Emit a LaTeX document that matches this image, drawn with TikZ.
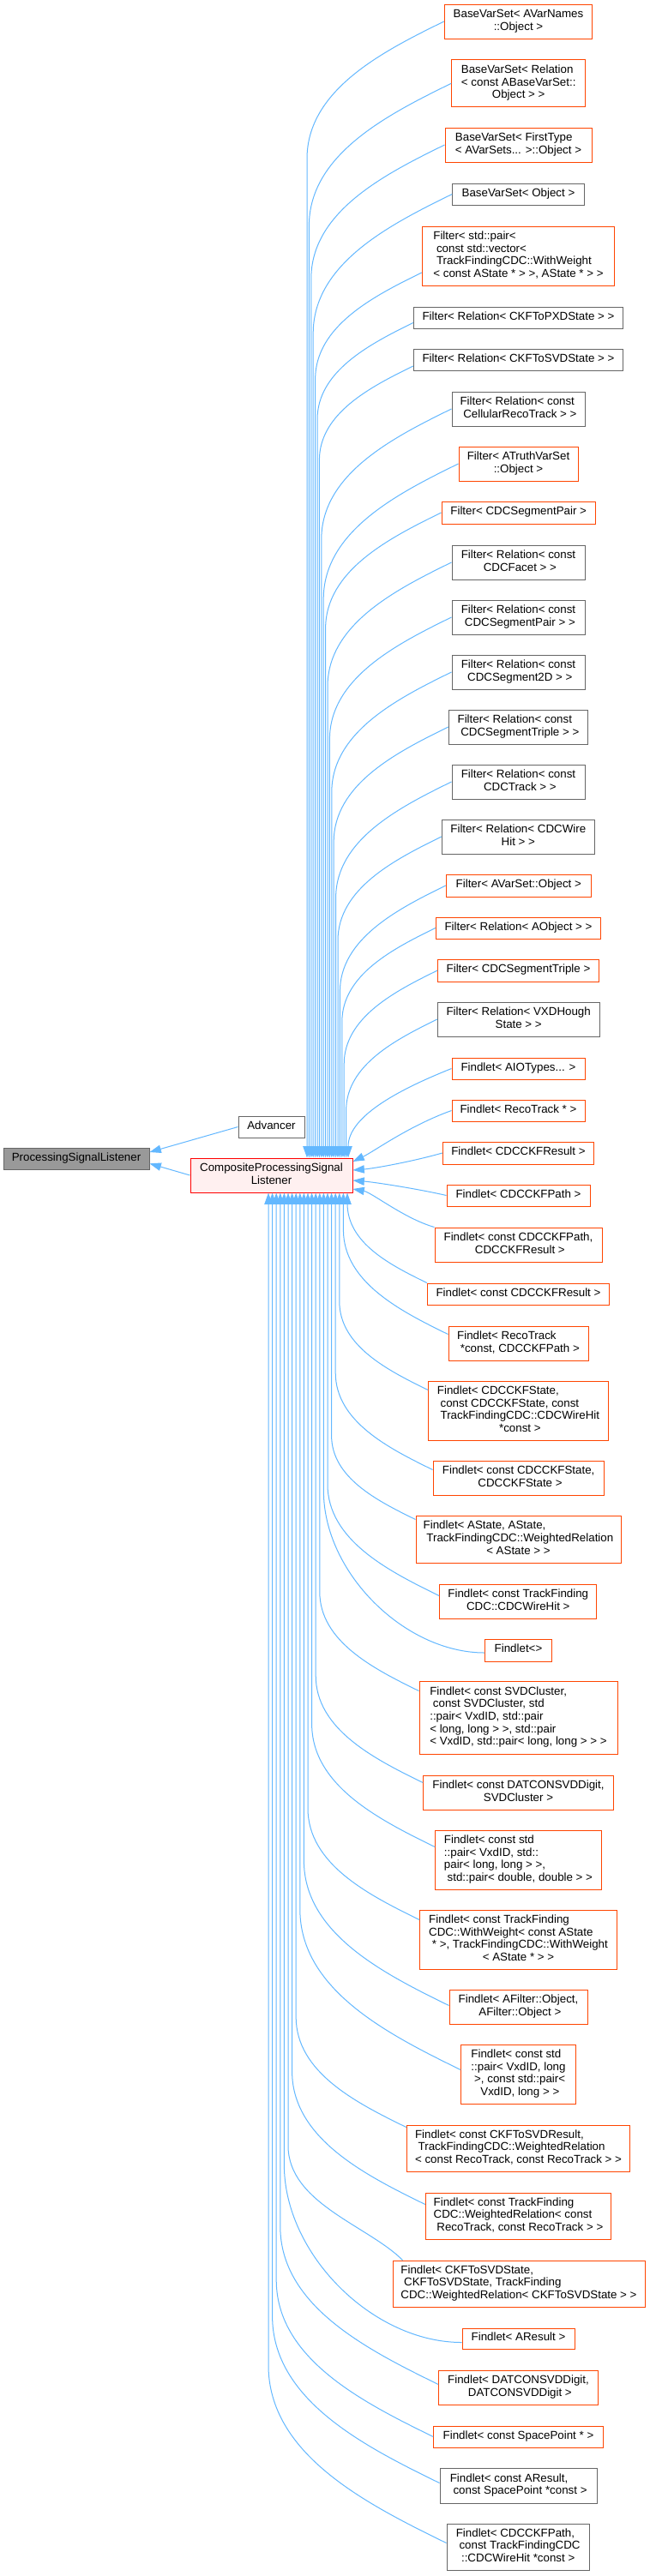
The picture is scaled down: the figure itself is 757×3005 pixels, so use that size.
\documentclass[tikz,border=0pt]{standalone}
\usepackage{fontspec}
\setmainfont{Liberation Sans}
\usetikzlibrary{arrows.meta}
\definecolor{edgeblue}{HTML}{63B8FF}
\definecolor{orB}{HTML}{FF4500}
\definecolor{grB}{HTML}{666666}
\definecolor{redB}{HTML}{FF0000}
\definecolor{pinkF}{HTML}{FFF0F0}
\definecolor{pslF}{HTML}{999999}
\newcommand{\Lab}[1]{\begin{tabular}{@{}l@{}}#1\end{tabular}}
\newcommand{\Last}[1]{\multicolumn{1}{@{}c@{}}{#1}}
% upper edge: start, Ex, Py, D
\newcommand{\upedge}[4]{\draw[edge] #1 .. controls +({-0.45*#4},{0.22*#4}) and +(0,{-0.5*#4}) .. (#2,#3) -- (#2,0 |- comp.north);}
\newcommand{\lowedge}[4]{\draw[edge] #1 .. controls +({-0.45*#4},{-0.22*#4}) and +(0,{0.5*#4}) .. (#2,#3) -- (#2,0 |- comp.south);}
\begin{document}
\begin{tikzpicture}[x=0.75pt,y=-0.75pt,
  box/.style={draw, line width=0.75pt, rectangle, inner sep=0pt, font=\fontsize{10}{11}\selectfont, fill=white},
  ob/.style={box, draw=orB},
  gb/.style={box, draw=grB},
  wh/.style 2 args={minimum width={#1*0.75pt}, minimum height={#2*0.75pt}},
  edge/.style={draw=edgeblue, line width=0.75pt, -{Triangle[length=10pt,width=7pt]}},
  yo/.style={yshift={-#1*0.75pt}},
  xo/.style={xshift={#1*0.75pt}}]
\fill[white] (0,0) rectangle (757,3005);
\useasboundingbox (0,0) rectangle (757,3005);

% left part
\node[gb, wh={170}{25}, fill=pslF] (psl) at (89,1352) {\Lab{ProcessingSignalListener}};
\node[gb, wh={77}{25}] (adv) at (316.5,1314.5) {\Lab{Advancer}};
\node[box, draw=redB, fill=pinkF, wh={189}{40}] (comp) at (316.5,1371) {\Lab{CompositeProcessingSignal\\\Last{Listener}}};

% right column
\node[ob, wh={172.4}{40}] (n1) at (604.5,25) {\Lab{BaseVarSet< AVarNames\\\Last{::Object >}}};
\node[ob, wh={156}{54.7}] (n2) at (604.7,97.3) {\Lab{BaseVarSet< Relation\\< const ABaseVarSet::\\\Last{Object > >}}};
\node[ob, wh={171}{40}] (n3) at (604.5,169) {\Lab{BaseVarSet< FirstType\\\Last{< AVarSets... >::Object >}}};
\node[gb, wh={153.6}{25}] (n4) at (604.5,226.5) {\Lab{BaseVarSet< Object >}};
\node[ob, wh={224.4}{69}] (n5) at (604.5,298.5) {\Lab{Filter< std::pair<\\\ const std::vector<\\\ TrackFindingCDC::WithWeight\\\Last{< const AState * > >, AState * > >}}};
\node[gb, wh={244.4}{25}] (n6) at (604.5,370.5) {\Lab{Filter< Relation< CKFToPXDState > >}};
\node[gb, wh={244.4}{25}] (n7) at (604.5,420) {\Lab{Filter< Relation< CKFToSVDState > >}};
\node[gb, wh={155}{40}] (n8) at (604.5,477) {\Lab{Filter< Relation< const\\\Last{\ CellularRecoTrack > >}}};
\node[ob, wh={139}{40}] (n9) at (604.5,541) {\Lab{Filter< ATruthVarSet\\\Last{::Object >}}};
\node[ob, wh={179.3}{26}] (n10) at (604.7,598) {\Lab{Filter< CDCSegmentPair >}};
\node[gb, wh={155}{40}] (n11) at (604.5,656) {\Lab{Filter< Relation< const\\\Last{\ CDCFacet > >}}};
\node[gb, wh={155}{40}] (n12) at (604.5,720) {\Lab{Filter< Relation< const\\\Last{\ CDCSegmentPair > >}}};
\node[gb, wh={155}{40}] (n13) at (604.5,784) {\Lab{Filter< Relation< const\\\Last{\ CDCSegment2D > >}}};
\node[gb, wh={162.4}{40}] (n14) at (604.5,848) {\Lab{Filter< Relation< const\\\Last{\ CDCSegmentTriple > >}}};
\node[gb, wh={155}{40}] (n15) at (604.5,912) {\Lab{Filter< Relation< const\\\Last{\ CDCTrack > >}}};
\node[gb, wh={178}{40}] (n16) at (604.3,976) {\Lab{Filter< Relation< CDCWire\\\Last{Hit > >}}};
\node[ob, wh={169}{26}] (n17) at (604.8,1033) {\Lab{Filter< AVarSet::Object >}};
\node[ob, wh={192.4}{25}] (n18) at (604.5,1082.5) {\Lab{Filter< Relation< AObject > >}};
\node[ob, wh={187.6}{26}] (n19) at (604.5,1132) {\Lab{Filter< CDCSegmentTriple >}};
\node[gb, wh={188.7}{40}] (n20) at (604.7,1189) {\Lab{Filter< Relation< VXDHough\\\Last{State > >}}};
\node[ob, wh={155}{25}] (n21) at (604.5,1246.5) {\Lab{Findlet< AIOTypes... >}};
\node[ob, wh={155}{25}] (n22) at (604.5,1295.5) {\Lab{Findlet< RecoTrack * >}};
\node[ob, wh={176.4}{26}] (n23) at (604.5,1345) {\Lab{Findlet< CDCCKFResult >}};
\node[ob, wh={167}{25}] (n24) at (604.5,1394.5) {\Lab{Findlet< CDCCKFPath >}};
\node[ob, wh={195}{40}] (n25) at (604.5,1452) {\Lab{Findlet< const CDCCKFPath,\\\Last{\ CDCCKFResult >}}};
\node[ob, wh={212.4}{25}] (n26) at (604.5,1509.5) {\Lab{Findlet< const CDCCKFResult >}};
\node[ob, wh={163}{40}] (n27) at (604.5,1567) {\Lab{Findlet< RecoTrack\\\Last{\ *const, CDCCKFPath >}}};
\node[ob, wh={209.6}{69}] (n28) at (604.5,1645.5) {\Lab{Findlet< CDCCKFState,\\\ const CDCCKFState, const\\\ TrackFindingCDC::CDCWireHit\\\Last{\ *const >}}};
\node[ob, wh={199.3}{40}] (n29) at (604.7,1724) {\Lab{Findlet< const CDCCKFState,\\\Last{\ CDCCKFState >}}};
\node[ob, wh={239}{55}] (n30) at (604.5,1795.5) {\Lab{Findlet< AState, AState,\\\ TrackFindingCDC::WeightedRelation\\\Last{< AState > >}}};
\node[ob, wh={183.3}{40}] (n31) at (604.3,1868) {\Lab{Findlet< const TrackFinding\\\Last{CDC::CDCWireHit >}}};
\node[ob, wh={77.6}{26}] (n32) at (604.5,1925) {\Lab{Findlet<>}};
\node[ob, wh={231}{85}] (n33) at (604.5,2003.5) {\Lab{Findlet< const SVDCluster,\\\ const SVDCluster, std\\::pair< VxdID, std::pair\\< long, long > >, std::pair\\\Last{< VxdID, std::pair< long, long > > >}}};
\node[ob, wh={221.6}{40}] (n34) at (604.5,2091) {\Lab{Findlet< const DATCONSVDDigit,\\\Last{SVDCluster >}}};
\node[ob, wh={193.6}{69}] (n35) at (604.5,2169.5) {\Lab{Findlet< const std\\::pair< VxdID, std::\\pair< long, long > >,\\\Last{\ std::pair< double, double > >}}};
\node[ob, wh={229.6}{69}] (n36) at (604.5,2262.5) {\Lab{Findlet< const TrackFinding\\CDC::WithWeight< const AState\\\ * >, TrackFindingCDC::WithWeight\\\Last{< AState * > >}}};
\node[ob, wh={161}{40}] (n37) at (604.5,2341) {\Lab{Findlet< AFilter::Object,\\\Last{\ AFilter::Object >}}};
\node[ob, wh={133.6}{69}] (n38) at (604.5,2419.5) {\Lab{Findlet< const std\\::pair< VxdID, long\\\ >, const std::pair<\\\Last{\ VxdID, long > >}}};
\node[ob, wh={260.4}{54}] (n39) at (604.5,2506) {\Lab{Findlet< const CKFToSVDResult,\\\ TrackFindingCDC::WeightedRelation\\\Last{< const RecoTrack, const RecoTrack > >}}};
\node[ob, wh={216.4}{54}] (n40) at (604.5,2585) {\Lab{Findlet< const TrackFinding\\CDC::WeightedRelation< const\\\Last{\ RecoTrack, const RecoTrack > >}}};
\node[ob, wh={294}{54}] (n41) at (605,2664) {\Lab{Findlet< CKFToSVDState,\\\ CKFToSVDState, TrackFinding\\\Last{CDC::WeightedRelation< CKFToSVDState > >}}};
\node[ob, wh={131}{24}] (n42) at (604.5,2728) {\Lab{Findlet< AResult >}};
\node[ob, wh={185.6}{40}] (n43) at (604.5,2785) {\Lab{Findlet< DATCONSVDDigit,\\\Last{\ DATCONSVDDigit >}}};
\node[ob, wh={197.6}{25}] (n44) at (604.5,2842.5) {\Lab{Findlet< const SpacePoint * >}};
\node[gb, wh={183.3}{41}] (n45) at (604.7,2899.5) {\Lab{Findlet< const AResult,\\\Last{\ const SpacePoint *const >}}};
\node[gb, wh={166.3}{54}] (n46) at (604.2,2971) {\Lab{Findlet< CDCCKFPath,\\\ const TrackFindingCDC\\\Last{::CDCWireHit *const >}}};

% edges to the base class
\draw[edge] (adv.west) -- ([yshift=6pt]psl.east);
\draw[edge] (comp.west) -- ([yshift=-4pt]psl.east);

% upper edges
\upedge{(n1.west)}{358}{185.3}{160.3}
\upedge{(n2.west)}{360.4}{263.6}{166.3}
\upedge{(n3.west)}{362.8}{325.2}{156.2}
\upedge{(n4.west)}{365.2}{389}{162.5}
\upedge{([yo=19.5]n5.west)}{367.6}{442.7}{124.7}
\upedge{([yo=6]n6.west)}{370}{489.3}{112.3}
\upedge{([yo=7]n7.west)}{372.4}{536.9}{109.9}
\upedge{(n8.west)}{374.8}{629.2}{152.2}
\upedge{(n9.west)}{377.2}{698.8}{157.8}
\upedge{(n10.west)}{379.6}{733.4}{135.4}
\upedge{(n11.west)}{382}{801}{145}
\upedge{(n12.west)}{384.4}{862.6}{142.6}
\upedge{(n13.west)}{386.8}{924.2}{140.2}
\upedge{(n14.west)}{389.2}{982.1}{134.1}
\upedge{(n15.west)}{391.6}{1047.4}{135.4}
\upedge{(n16.west)}{394}{1097.3}{121.3}
\upedge{(n17.west)}{396.4}{1156.9}{123.9}
\upedge{(n18.west)}{398.8}{1192}{109.5}
\upedge{(n19.west)}{401.2}{1241.5}{109.5}
\upedge{(n20.west)}{403.6}{1295.7}{106.7}
\draw[edge] (n21.west) .. controls +(-55,22) and +(0,-50) .. (406,0 |- comp.north);
\draw[edge] (n22.west) .. controls +(-50,18) and +(25,-12) .. (comp.east |- 0,1355);
% side edges
\draw[edge] (n23.west) .. controls +(-35,10) and +(25,-2) .. (comp.east |- 0,1365);
\draw[edge] (n24.west) .. controls +(-35,-8) and +(25,2) .. (comp.east |- 0,1377);
\draw[edge] (n25.north west) .. controls +(-35,-10) and +(22,4) .. (comp.east |- 0,1387);
% lower edges
\lowedge{(n26.north west)}{405}{1403.7}{93.3}
\lowedge{([yo=10]n27.north west)}{400.4}{1434.4}{122.6}
\lowedge{([yo=11]n28.north west)}{395.8}{1518.1}{103.9}
\lowedge{([yo=11]n29.north west)}{391.2}{1601.2}{113.8}
\lowedge{([yo=5]n30.north west)}{386.6}{1674.6}{98.4}
\lowedge{([yo=14]n31.north west)}{382}{1731.3}{130.7}
\draw[edge] ([yo=3]n32.west) .. controls +(-94,0) and +(0,94) .. (377.4,1739.7) -- (377.4,0 |- comp.south);
\lowedge{([yo=12]n33.north west)}{372.8}{1856.8}{116.2}
\lowedge{([yo=9]n34.north west)}{368.2}{1954.5}{125.5}
\lowedge{([yo=20]n35.north west)}{363.6}{2010.9}{144.1}
\lowedge{([yo=12]n36.north west)}{359}{2109.3}{130.7}
\lowedge{([yo=19]n37.north west)}{354.4}{2170.4}{169.6}
\lowedge{([yo=30]n38.north west)}{349.8}{2227.1}{187.9}
\lowedge{([yo=3]n39.north west)}{345.2}{2352.9}{129.1}
\lowedge{([yo=14]n40.north west)}{340.6}{2416.3}{155.7}
\draw[edge] ([xo=12]n41.north west) .. controls +(-40,-40) and +(0,67) .. (336,2503) -- (336,0 |- comp.south);
\draw[edge] ([yo=17]n42.north west) .. controls +(-104,0) and +(0,104) .. (331.4,2525.4) -- (331.4,0 |- comp.south);
\lowedge{([yo=17]n43.north west)}{326.8}{2597.1}{184.9}
\lowedge{([yo=13]n44.north west)}{322.2}{2659.5}{183.5}
\lowedge{([yo=18]n45.north west)}{317.6}{2701.6}{195.4}
\lowedge{([yo=23]n46.north west)}{313}{2759}{208}
\end{tikzpicture}
\end{document}
